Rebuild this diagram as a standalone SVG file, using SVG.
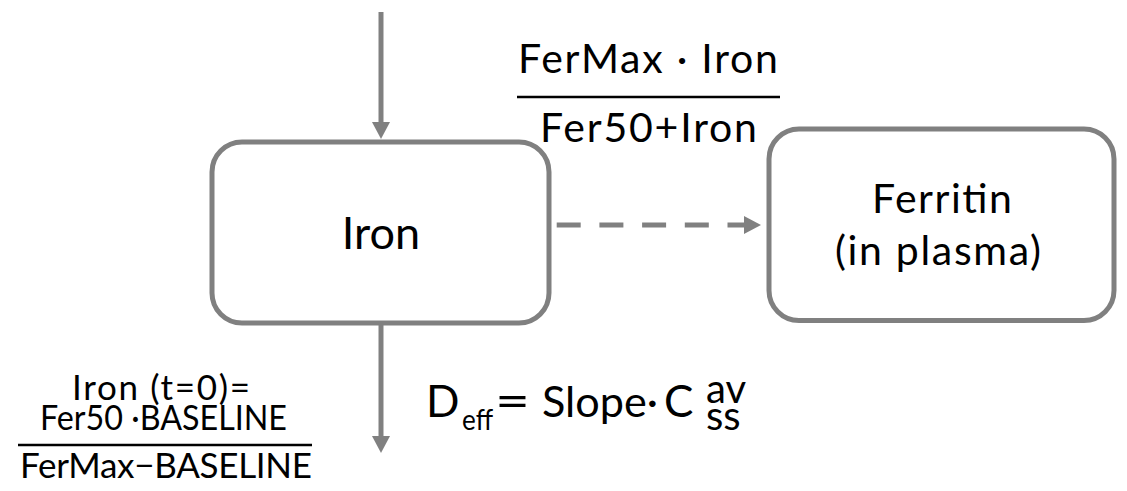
<svg xmlns="http://www.w3.org/2000/svg" width="1127" height="491" viewBox="0 0 1127 491">
<style>
.box{fill:#ffffff;stroke:#808080;stroke-width:5}
.ln{stroke:#808080;stroke-width:5;fill:none}
.t{font-family:Lato,"Open Sans","Liberation Sans",sans-serif;fill:#000000}
.frac{stroke:#000000;stroke-width:2.5}
</style>
<defs>
<marker id="ah" viewBox="0 0 17 18" refX="0" refY="9" markerUnits="userSpaceOnUse" markerWidth="17" markerHeight="18" orient="auto">
<path d="M0,0 L17,9 L0,18 z" fill="#808080"/>
</marker>
</defs>
<rect width="1127" height="491" fill="#ffffff"/>
<g id="connectors">
<line class="ln" x1="381" y1="12" x2="381" y2="122" marker-end="url(#ah)"/>
<line class="ln" x1="381" y1="325" x2="381" y2="436" marker-end="url(#ah)"/>
<line class="ln" x1="556.7" y1="225" x2="744" y2="225" stroke-dasharray="24 18.7" marker-end="url(#ah)"/>
</g>
<g id="node-iron">
<rect class="box" x="212" y="142" width="337" height="181" rx="30"/>
<text class="t" x="381" y="249" font-size="45" text-anchor="middle">Iron</text>
</g>
<g id="node-ferritin">
<rect class="box" x="769" y="129" width="345" height="191.5" rx="30"/>
<text class="t" x="872" y="213" font-size="41" textLength="140" lengthAdjust="spacing">Ferritin</text>
<text class="t" x="835" y="265" font-size="41" textLength="206" lengthAdjust="spacing">(in plasma)</text>
</g>
<g id="label-rate">
<text class="t" x="518" y="73" font-size="41" textLength="260" lengthAdjust="spacing">FerMax · Iron</text>
<line class="frac" x1="517" y1="97" x2="780" y2="97"/>
<text class="t" x="540" y="142" font-size="41" textLength="217" lengthAdjust="spacing">Fer50+Iron</text>
</g>
<g id="label-initial">
<text class="t" x="72" y="400" font-size="35" textLength="178" lengthAdjust="spacing">Iron (t=0)=</text>
<text class="t" x="40" y="430" font-size="35" textLength="247" lengthAdjust="spacingAndGlyphs">Fer50 ·BASELINE</text>
<line class="frac" x1="18" y1="445" x2="312" y2="445"/>
<text class="t" x="20" y="478" font-size="35" textLength="292" lengthAdjust="spacing">FerMax−BASELINE</text>
</g>
<g id="label-deff">
<text class="t" x="426" y="417" font-size="44">D</text>
<text class="t" x="462" y="430" font-size="29" textLength="31" lengthAdjust="spacingAndGlyphs">eff</text>
<text class="t" x="495" y="417" font-size="46" textLength="35" lengthAdjust="spacingAndGlyphs">=</text>
<text class="t" x="542" y="417" font-size="42" textLength="116" lengthAdjust="spacingAndGlyphs">Slope·</text>
<text class="t" x="664" y="417" font-size="44">C</text>
<text class="t" x="706" y="403" font-size="40">av</text>
<text class="t" x="706" y="430" font-size="40">ss</text>
</g>
</svg>
